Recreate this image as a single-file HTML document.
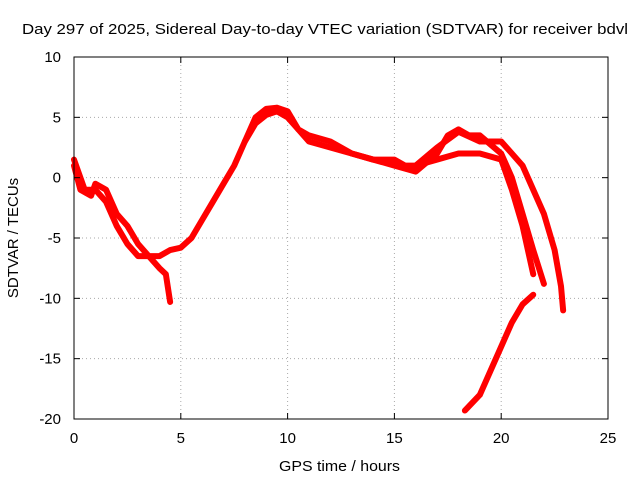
<!DOCTYPE html>
<html><head><meta charset="utf-8"><style>
body{margin:0;background:#fff;}
svg text{font-family:"Liberation Sans",sans-serif;font-size:15px;fill:#000;}
</style></head><body>
<svg width="640" height="480" xmlns="http://www.w3.org/2000/svg">
<rect width="640" height="480" fill="#fff"/>
<g id="grid"></g>
<g id="series"></g>
<rect x="74" y="57" width="534" height="362" fill="none" stroke="#000" stroke-width="1"/>
<g id="ticks"></g>
<text x="22" y="34" textLength="606" lengthAdjust="spacingAndGlyphs">Day 297 of 2025, Sidereal Day-to-day VTEC variation (SDTVAR) for receiver bdvl</text>
<text x="279" y="471" textLength="121" lengthAdjust="spacingAndGlyphs">GPS time / hours</text>
<text x="18" y="238" text-anchor="middle" transform="rotate(-90 18 238)">SDTVAR / TECUs</text>
</svg>
<script>
const xTicks=[0,5,10,15,20,25];
const yTicks=[10,5,0,-5,-10,-15,-20];
const traceA=[[0,1],[0.3,-1],[0.8,-1.5],[1,-0.5],[1.5,-1],[2,-3],[2.5,-4],[3,-5.5],[3.5,-6.5],[4,-6.5],[4.5,-6],[5,-5.8],[5.5,-5],[6,-3.5],[6.5,-2],[7,-0.5],[7.5,1],[8,3],[8.5,4.5],[9,5.2],[9.5,5.5],[10,5],[10.5,4],[11,3],[12,2.5],[13,2],[14,1.5],[15,1.5],[15.5,1],[16,1],[17,1.5],[18,2],[19,2],[20,1.5],[20.5,-1],[21,-4],[21.5,-8]];
const traceB=[[0,1.5],[0.5,-1],[1,-1],[1.5,-2],[2,-4],[2.5,-5.5],[3,-6.5],[3.5,-6.5],[4,-7.5],[4.3,-8],[4.5,-10.3]];
const traceC=[[8,3],[8.5,5],[9,5.7],[9.5,5.8],[10,5.5],[10.5,4],[11,3.5],[12,3],[13,2],[14,1.5],[15,1],[16,0.5],[17,2],[17.5,3.5],[18,4],[18.5,3.5],[19,3.5],[20,2],[20.5,0],[21,-3],[21.5,-6],[22,-8.8]];
const traceD=[[16,1],[17,2.5],[18,3.8],[19,3],[20,3],[21,1],[21.5,-1],[22,-3],[22.5,-6],[22.8,-9],[22.9,-11]];
const traceE=[[18.3,-19.3],[19,-18],[19.5,-16],[20,-14],[20.5,-12],[21,-10.5],[21.5,-9.7]];
const NS="http://www.w3.org/2000/svg";
const X=v=>74+v*(534/25), Y=v=>57+(10-v)*(362/30);
const grid=document.getElementById('grid'),ticks=document.getElementById('ticks'),ser=document.getElementById('series');
function mk(tag,attrs,parent){const e=document.createElementNS(NS,tag);for(const k in attrs)e.setAttribute(k,attrs[k]);parent.appendChild(e);return e;}
xTicks.forEach(t=>{
 if(t>0&&t<25){const g=mk('line',{x1:X(t),x2:X(t),y1:57,y2:419,stroke:'#aaa','stroke-dasharray':'1,3'},grid);
 
 }
 const tx=mk('text',{x:X(t),y:443,'text-anchor':'middle'},ticks);tx.textContent=t;
 
 
 mk('line',{x1:X(t),x2:X(t),y1:419,y2:413,stroke:'#000'},ticks);
 mk('line',{x1:X(t),x2:X(t),y1:57,y2:63,stroke:'#000'},ticks);
});
yTicks.forEach(t=>{
 if(t>-20&&t<10){const g=mk('line',{x1:74,x2:608,y1:Y(t),y2:Y(t),stroke:'#aaa','stroke-dasharray':'1,3'},grid);
 
 }
 const tx=mk('text',{x:61,y:Y(t)+5,'text-anchor':'end'},ticks);tx.textContent=t;
 
 
 mk('line',{x1:74,x2:80,y1:Y(t),y2:Y(t),stroke:'#000'},ticks);
 mk('line',{x1:608,x2:602,y1:Y(t),y2:Y(t),stroke:'#000'},ticks);
});
[traceA,traceB,traceC,traceD,traceE].forEach((tr,i)=>{
 const p=mk('polyline',{points:tr.map(d=>X(d[0])+','+Y(d[1])).join(' '),fill:'none',stroke:'#f00','stroke-width':6,'stroke-linejoin':'round','stroke-linecap':'round'},ser);
 
 
});
</script>
</body></html>
